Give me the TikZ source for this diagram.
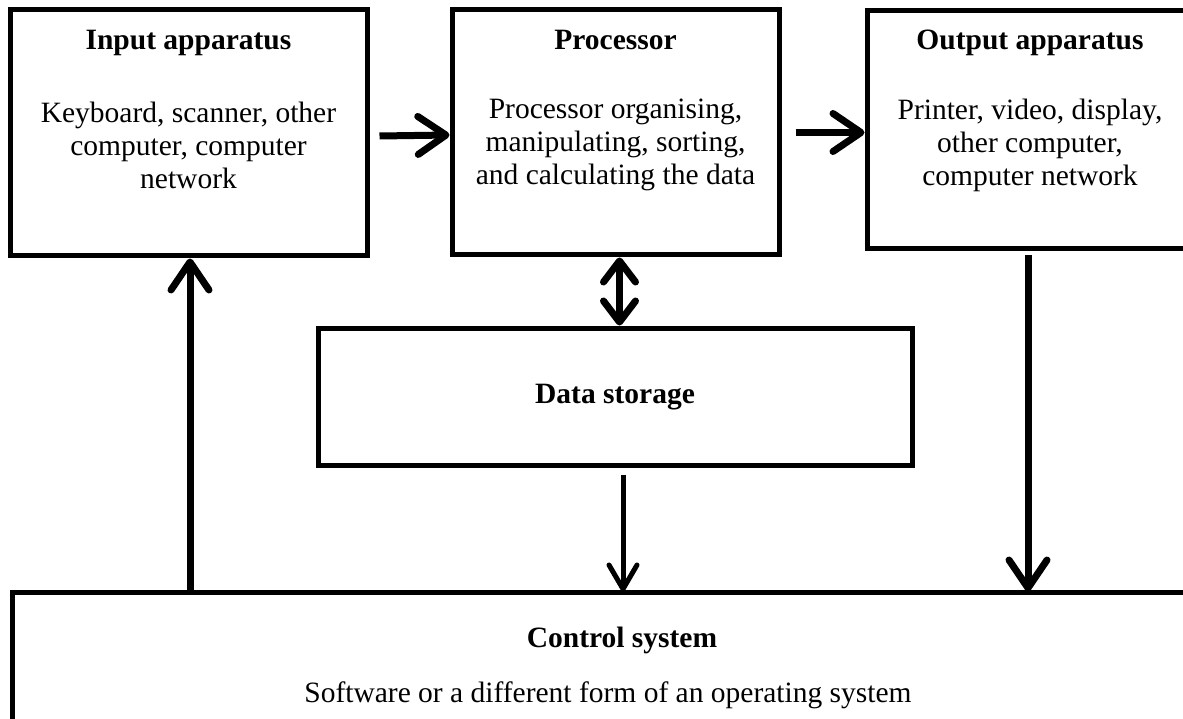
\documentclass[tikz,border=0pt]{standalone}
\usepackage{fontspec}
\setmainfont{Liberation Serif}
\usetikzlibrary{arrows.meta}
\begin{document}
\begin{tikzpicture}[x=1pt,y=-1pt,
  box/.style={draw=black,line width=5pt,rectangle,inner sep=0pt,fill=white},
  txt/.style={align=center,inner sep=0pt,font=\fontsize{29.5}{33}\selectfont},
  head/.style={align=center,inner sep=0pt,text height=20pt,text depth=6pt,font=\fontsize{29.5}{33}\selectfont\bfseries},
  tipbig/.tip={Straight Barb[length=28pt,width=38pt,round]},
  tipdbl/.tip={Straight Barb[length=21pt,width=32pt,round]},
  arr/.style={line width=7pt,-tipbig},
  darr/.style={line width=7pt,tipdbl-tipdbl},
  arrthin/.style={line width=5pt,-{Straight Barb[length=24pt,width=28pt,round]}}]
\useasboundingbox[fill=white] (0,0) rectangle (1183,719);
\clip (0,0) rectangle (1183,719);
% boxes
\node[box,minimum width=357pt,minimum height=246pt] (inp) at (188.5,133) {};
\node[box,minimum width=327pt,minimum height=245pt] (proc) at (615.5,132.5) {};
\node[box,minimum width=326pt,minimum height=238pt] (out) at (1030,130) {};
\node[box,minimum width=594pt,minimum height=137pt] (store) at (615,396.5) {};
\node[box,minimum width=1208pt,minimum height=168pt] (ctrl) at (616,676) {};
% texts
\node[head] (inph) at (188.5,43) {Input apparatus};
\node[txt] (inpt) at (188.5,145) {Keyboard, scanner, other\\computer, computer\\network};
\node[head] (proch) at (615.5,43) {Processor};
\node[txt] (proct) at (615.5,145) {Processor organising,\\manipulating, sorting,\\and calculating the data};
\node[head] (outh) at (1030,43) {Output apparatus};
\node[txt] (outt) at (1030,145) {Printer, video, display,\\other computer,\\computer network};
\node[head] (storeh) at (615,396) {Data storage};
\node[head] (ctrlh) at (622,640) {Control system};
\node[txt] (ctrlt) at (608,695) {Software or a different form of an operating system};
% connectors
\draw[arr] ([xshift=10pt,yshift=-3pt]inp.east) -- ([yshift=-2.5pt]proc.west);
\draw[arr] ([xshift=14pt]proc.east) -- (proc.east -| out.west);
\draw[darr] ([xshift=4pt]proc.south) -- ([xshift=4pt]proc.south |- store.north);
\draw[arrthin] ([xshift=8pt,yshift=-7pt]store.south) -- ([xshift=8pt,yshift=-2pt]store.south |- ctrl.north);
\draw[arr] ([xshift=-2pt,yshift=-4pt]out.south) -- ([xshift=-2pt,yshift=-2pt]out.south |- ctrl.north);
\draw[arr] ([xshift=1.5pt,yshift=-2pt]inp.south |- ctrl.north) -- ([xshift=1.5pt]inp.south);
\end{tikzpicture}
\end{document}
